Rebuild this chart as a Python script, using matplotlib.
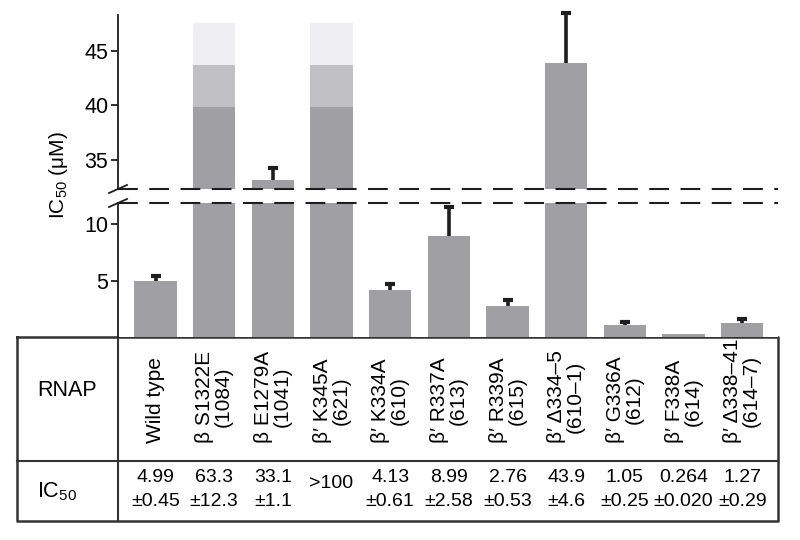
import numpy as np
import matplotlib
matplotlib.use("Agg")
import matplotlib.pyplot as plt
from matplotlib.transforms import blended_transform_factory

plt.rcParams['font.family'] = ['Liberation Sans', 'DejaVu Sans']
plt.rcParams['mathtext.default'] = 'regular'

# data
labels = ["Wild type", "β S1322E\n(1084)", "β E1279A\n(1041)", "β′ K345A\n(621)",
          "β′ K334A\n(610)", "β′ R337A\n(613)", "β′ R339A\n(615)",
          "β′ Δ334–5\n(610–1)", "β′ G336A\n(612)", "β′ F338A\n(614)",
          "β′ Δ338–41\n(614–7)"]
ic50 = [4.99, 63.3, 33.1, 100.0, 4.13, 8.99, 2.76, 43.9, 1.05, 0.264, 1.27]
ic50_err = [0.45, 12.3, 1.1, 0.0, 0.61, 2.58, 0.53, 4.6, 0.25, 0.020, 0.29]
ic50_text = ["4.99", "63.3", "33.1", ">100", "4.13", "8.99", "2.76", "43.9", "1.05", "0.264", "1.27"]
err_text = ["±0.45", "±12.3", "±1.1", "", "±0.61", "±2.58", "±0.53", "±4.6", "±0.25", "±0.020", "±0.29"]
truncated = [False, True, False, True, False, False, False, False, False, False, False]
# fading tops for bars that run off the scale
fade_levels = [39.8, 43.7, 47.6]
fade_colors = ["#a09fa4", "#c0bfc4", "#efeff3"]

bar_color = "#a0a0a4"
ink = "#1e1e1e"

x = np.arange(len(labels))
vals = np.array(ic50)
errs = np.array(ic50_err)
fig = plt.figure(figsize=(8, 5.4), dpi=100)

W, H = 800.0, 540.0
ax_left, ax_right = 118, 778
ax_lo = fig.add_axes([ax_left / W, (H - 337) / H, (ax_right - ax_left) / W, (337 - 203) / H])
ax_hi = fig.add_axes([ax_left / W, (H - 189) / H, (ax_right - ax_left) / W, (189 - 15) / H])
lo_lim = (0, 11.9)
hi_lim = (32.3, 48.3)

width = 0.72
for ax in (ax_lo, ax_hi):
    for s in ("top", "right", "bottom"):
        ax.spines[s].set_visible(False)
    ax.spines["left"].set_linewidth(1.3)
    ax.spines["left"].set_color(ink)
    ax.set_xticks([])
    ax.tick_params(axis="y", direction="out", length=5, width=1.3, color=ink,
                   labelsize=15.5, pad=2)

# lower panel
ax_lo.bar(x, vals, width, color=bar_color, zorder=1)
ax_lo.set_yticks([5, 10])

# upper panel
normal = [not t for t in truncated]
ax_hi.bar(x[normal], vals[normal], width, color=bar_color, zorder=1)
bottom = 0
for lev, c in zip(fade_levels, fade_colors):
    ax_hi.bar(x[truncated], lev - bottom, width, bottom=bottom, color=c, zorder=1)
    bottom = lev
ax_hi.set_yticks([35, 40, 45])

# upward error bars, drawn in the panel that holds the bar top
show = np.array([(not t) and e >= 0.1 for t, e in zip(truncated, ic50_err)])
for ax, (y0, y1) in ((ax_lo, lo_lim), (ax_hi, hi_lim)):
    m = show & (vals > y0) & (vals < y1)
    ax.vlines(x[m], vals[m], vals[m] + errs[m], color=ink, lw=2.6, zorder=3, clip_on=False)
    ax.plot(x[m], vals[m] + errs[m], ls="none", marker="_", ms=7, mew=3, color=ink,
            zorder=3, clip_on=False)
    ax.set_xlim(-0.64, 10.61)
    ax.set_ylim(y0, y1)

# break lines
ax_lo.axhline(lo_lim[1], color=ink, lw=1.5, dashes=(9.5, 5.5), zorder=4, clip_on=False)
ax_hi.axhline(hi_lim[0], color=ink, lw=1.5, dashes=(9.5, 5.5), zorder=4, clip_on=False)
for ax, yb in ((ax_lo, 1.0), (ax_hi, 0.0)):
    h = 4.0 / ax.bbox.height
    d = 9.0 / ax.bbox.width
    ax.plot([-d, d], [yb - h, yb + h], transform=ax.transAxes, color=ink, lw=1.3, clip_on=False)

fig.text(59 / W, 1 - 175 / H, "IC$_{50}$ (μM)", rotation=90, ha="center", va="center", fontsize=15)

# table below
tab = fig.add_axes([0, 0, 1, 1], zorder=-1)
tab.set_xlim(0, W)
tab.set_ylim(H, 0)
tab.axis("off")
tab.plot([17, 778, 778, 17, 17], [337, 337, 521, 521, 337], color="#333333", lw=1.8)
tab.plot([118, 118], [337, 521], color="#333333", lw=1.5)
tab.plot([17, 778], [461, 461], color="#333333", lw=1.5)
tab.text(37, 390, "RNAP", ha="left", va="center", fontsize=15.5)
tab.text(37, 492, "IC$_{50}$", ha="left", va="center", fontsize=15.5)

tr = blended_transform_factory(ax_lo.transData, fig.transFigure)
for i, lab in enumerate(labels):
    fig.text(x[i], (H - 443) / H, lab, transform=tr, rotation=90, ha="center", va="bottom",
             multialignment="center", fontsize=15, linespacing=1.0)
    if err_text[i]:
        fig.text(x[i], (H - 477) / H, ic50_text[i], transform=tr, ha="center", va="center", fontsize=14)
        fig.text(x[i], (H - 502) / H, err_text[i], transform=tr, ha="center", va="center", fontsize=14)
    else:
        fig.text(x[i], (H - 484) / H, ic50_text[i], transform=tr, ha="center", va="center", fontsize=14)

fig.savefig("out.png", dpi=100)
